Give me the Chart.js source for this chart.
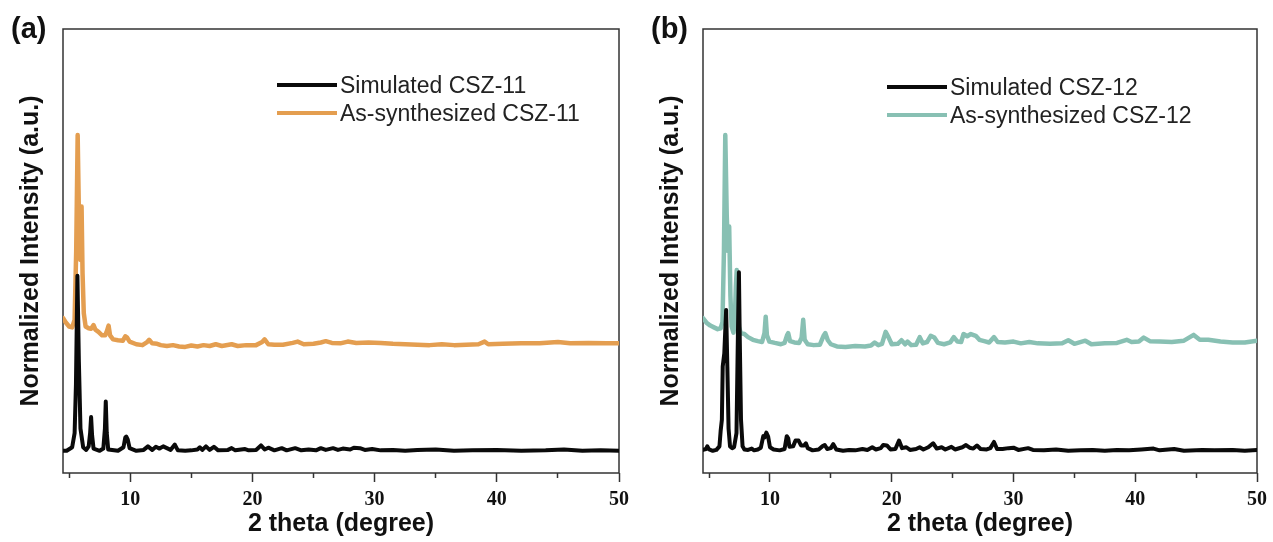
<!DOCTYPE html>
<html>
<head>
<meta charset="utf-8">
<title>XRD CSZ-11 / CSZ-12</title>
<script src="https://cdn.jsdelivr.net/npm/chart.js@4.4.1/dist/chart.umd.min.js"></script>
<style>
    body {
        margin: 0;
        background: #fff;
        width: 1273px;
        height: 542px;
        position: relative;
        overflow: hidden;
        font-family: "Liberation Sans", Arial, sans-serif;
    }
    .panel {
        position: absolute;
        top: 0;
        height: 542px;
    }
    #panelA { left: 0; width: 640px; }
    #panelB { left: 640px; width: 633px; }
    .tag {
        position: absolute;
        font-weight: bold;
        font-size: 29px;
        line-height: 1;
        color: #111;
    }
    .legend {
        position: absolute;
        font-size: 23px;
        color: #222;
    }
    .legend .row {
        display: flex;
        align-items: center;
        height: 28px;
        white-space: nowrap;
    }
    .legend .line {
        display: inline-block;
        width: 60px;
        height: 4px;
        margin-right: 3px;
    }
</style>
</head>
<body>
<div class="panel" id="panelA">
    <canvas id="chartA" width="640" height="542"></canvas>
    <div class="tag" style="left: 11px; top: 14px;">(a)</div>
    <div class="legend" id="legendA" style="left: 277px; top: 71px;"></div>
</div>
<div class="panel" id="panelB">
    <canvas id="chartB" width="633" height="542"></canvas>
    <div class="tag" style="left: 11px; top: 14px;">(b)</div>
    <div class="legend" id="legendB" style="left: 247px; top: 73px;"></div>
</div>
<script>
// x ticks (2 theta, degree)
const xMajorTicks = [10, 20, 30, 40, 50];
const xMinorTicks = [5, 15, 25, 35, 45];

// (a) simulated CSZ-11, [2theta, intensity]
const simulated11 = [
    [4.5, 5.0], [4.8, 5.0], [5.25, 5.8], [5.45, 9], [5.56, 20], [5.68, 44.4],
    [5.8, 25], [5.93, 10], [6.15, 5.8], [6.4, 5.2], [6.6, 6], [6.72, 9],
    [6.8, 12.6], [6.88, 8.5], [7.0, 5.5], [7.5, 5.0], [7.8, 5.5], [7.93, 10],
    [8.0, 16.1], [8.08, 9], [8.2, 5.3], [9.0, 5.0], [9.45, 5.8], [9.6, 8],
    [9.68, 8.2], [9.8, 7.5], [9.95, 5.6], [10.5, 5.0], [11.1, 5.2], [11.45, 6.0],
    [11.8, 5.2], [12.1, 5.9], [12.4, 5.5], [12.7, 6.0], [13.0, 5.6], [13.3, 5.2],
    [13.65, 6.4], [13.9, 5.1], [14.5, 5.0], [15.0, 5.1], [15.5, 5.3], [15.7, 5.8],
    [15.9, 5.2], [16.2, 6.0], [16.5, 5.2], [16.85, 5.9], [17.2, 5.1], [18.0, 5.2],
    [18.3, 5.6], [18.6, 5.1], [19.4, 5.4], [19.7, 5.1], [20.3, 5.2], [20.7, 6.2],
    [21.0, 5.3], [21.3, 5.7], [21.8, 5.1], [22.4, 5.6], [22.8, 5.1], [23.5, 5.6],
    [24.0, 5.1], [24.6, 5.3], [25.2, 5.1], [25.6, 5.6], [26.0, 5.2], [26.6, 5.6],
    [27.0, 5.2], [27.4, 5.5], [28.0, 5.3], [28.3, 5.7], [28.8, 5.6], [29.2, 5.2],
    [29.8, 5.4], [30.5, 5.1], [31.5, 5.2], [32.5, 5.0], [33.5, 5.2], [35.0, 5.3],
    [36.5, 5.0], [38.0, 5.1], [40.0, 5.2], [42.0, 5.0], [44.0, 5.1], [45.5, 5.3],
    [47.0, 5.0], [48.5, 5.1], [50.0, 5.0]
];

// (a) as-synthesized CSZ-11
const synthesized11 = [
    [4.5, 34.9], [4.7, 34.0], [5.0, 33.0], [5.25, 32.8], [5.45, 34.5], [5.58, 50],
    [5.7, 76.1], [5.82, 55], [5.92, 48], [6.02, 60], [6.1, 45], [6.2, 36],
    [6.35, 33], [6.6, 32.6], [6.8, 32.5], [7.0, 33.3], [7.15, 32.3], [7.4, 31.8],
    [7.7, 31.0], [7.95, 31.0], [8.1, 32.0], [8.23, 33.2], [8.35, 31.0], [8.6, 30.1],
    [9.0, 29.9], [9.4, 29.8], [9.6, 30.8], [9.75, 30.5], [9.95, 29.6], [10.5, 29.0],
    [11.0, 28.8], [11.35, 29.4], [11.55, 30.0], [11.8, 29.2], [12.2, 29.1], [12.5, 28.8],
    [13.0, 28.6], [13.5, 28.8], [14.0, 28.5], [14.5, 28.4], [15.0, 28.7], [15.5, 28.5],
    [16.0, 28.8], [16.5, 28.6], [17.0, 29.0], [17.5, 28.6], [18.3, 29.0], [18.8, 28.6],
    [19.5, 28.8], [20.3, 28.8], [20.8, 29.5], [21.0, 30.1], [21.3, 29.0], [21.8, 28.9],
    [22.5, 28.9], [23.3, 29.3], [23.7, 29.6], [24.2, 29.0], [25.0, 29.1], [25.6, 29.4],
    [26.0, 29.7], [26.5, 29.3], [27.2, 29.2], [27.8, 29.6], [28.5, 29.3], [29.5, 29.4],
    [30.5, 29.3], [31.5, 29.1], [32.5, 29.0], [33.5, 28.9], [34.5, 28.8], [35.5, 29.0],
    [36.5, 28.8], [37.5, 28.9], [38.5, 29.0], [39.0, 29.6], [39.3, 29.0], [40.5, 29.1],
    [42.0, 29.2], [43.5, 29.2], [45.0, 29.5], [46.0, 29.2], [47.5, 29.3], [49.0, 29.2],
    [50.0, 29.2]
];

// (b) simulated CSZ-12
const simulated12 = [
    [4.5, 5.2], [4.75, 5.4], [4.85, 6.0], [5.0, 5.3], [5.3, 5.0], [5.6, 5.2],
    [5.85, 6.0], [5.95, 9.5], [6.05, 12], [6.12, 24], [6.25, 27], [6.4, 36.7],
    [6.5, 24], [6.6, 10], [6.72, 6], [6.9, 5.6], [7.05, 5.8], [7.25, 9],
    [7.35, 28], [7.45, 45.2], [7.52, 30], [7.62, 12], [7.75, 6], [7.9, 5.3],
    [8.2, 5.2], [8.5, 5.5], [8.7, 5.1], [9.0, 5.3], [9.25, 5.7], [9.45, 8.3],
    [9.55, 8.0], [9.7, 9.1], [9.85, 8.2], [10.0, 5.8], [10.3, 5.3], [10.8, 5.1],
    [11.2, 5.4], [11.38, 8.3], [11.5, 7.8], [11.6, 5.9], [11.9, 6.0], [12.1, 7.3],
    [12.35, 7.3], [12.55, 6.2], [12.8, 6.2], [12.95, 6.7], [13.1, 5.6], [13.5, 5.1],
    [14.0, 5.3], [14.3, 6.0], [14.5, 6.3], [14.7, 5.4], [15.0, 5.6], [15.2, 6.5],
    [15.45, 5.3], [16.0, 5.0], [16.5, 5.2], [17.0, 5.1], [17.6, 5.4], [18.0, 5.2],
    [18.4, 5.8], [18.7, 5.3], [19.1, 5.6], [19.3, 6.3], [19.6, 6.2], [19.9, 5.3],
    [20.3, 5.4], [20.6, 7.3], [20.85, 5.6], [21.2, 5.8], [21.5, 5.2], [22.0, 5.4],
    [22.3, 5.8], [22.6, 5.3], [23.0, 5.8], [23.4, 6.7], [23.7, 5.5], [24.1, 5.8],
    [24.4, 5.3], [24.9, 5.9], [25.2, 5.3], [25.8, 5.8], [26.1, 6.3], [26.4, 5.7],
    [26.7, 5.5], [27.0, 6.2], [27.3, 5.4], [27.8, 5.3], [28.1, 5.6], [28.4, 7.0],
    [28.65, 5.4], [29.1, 5.4], [29.6, 5.6], [30.0, 5.7], [30.4, 5.2], [31.2, 5.6],
    [31.6, 5.2], [32.5, 5.1], [33.5, 5.3], [34.5, 5.0], [35.5, 5.1], [36.5, 5.2],
    [37.5, 5.0], [38.5, 5.2], [39.5, 5.1], [40.5, 5.3], [41.5, 5.5], [42.0, 5.1],
    [43.2, 5.4], [44.0, 5.0], [45.5, 5.2], [46.5, 5.1], [48.0, 5.2], [49.0, 5.0],
    [50.0, 5.2]
];

// (b) as-synthesized CSZ-12
const synthesized12 = [
    [4.5, 34.9], [4.8, 33.8], [5.1, 33.2], [5.4, 32.8], [5.7, 32.4], [5.95, 32.6],
    [6.1, 34], [6.22, 50], [6.33, 76.1], [6.45, 58], [6.55, 50], [6.65, 55.5],
    [6.75, 40], [6.85, 33], [7.0, 31.6], [7.1, 33.5], [7.2, 42], [7.27, 45.7],
    [7.35, 40], [7.45, 33], [7.6, 31.5], [7.9, 31.3], [8.2, 30.6], [8.6, 30.0],
    [9.0, 29.7], [9.35, 29.5], [9.55, 31.5], [9.65, 35.2], [9.75, 31.0], [9.95, 29.6],
    [10.4, 29.3], [10.9, 29.0], [11.2, 29.3], [11.4, 31.0], [11.5, 31.5], [11.65, 29.7],
    [12.0, 29.4], [12.4, 29.3], [12.6, 30.5], [12.73, 34.5], [12.85, 30.0], [13.1, 29.0],
    [13.6, 28.8], [14.1, 28.9], [14.4, 30.9], [14.55, 31.5], [14.75, 29.9], [15.0, 29.0],
    [15.5, 28.5], [16.2, 28.4], [17.0, 28.6], [17.8, 28.5], [18.3, 28.7], [18.6, 29.4],
    [18.9, 28.8], [19.2, 29.1], [19.5, 31.8], [19.75, 30.5], [20.0, 29.0], [20.5, 29.1],
    [20.8, 29.9], [21.1, 29.0], [21.3, 29.6], [21.6, 28.8], [22.0, 28.9], [22.3, 30.6],
    [22.55, 29.2], [22.9, 29.5], [23.2, 30.9], [23.5, 30.5], [23.8, 29.3], [24.3, 29.0],
    [24.8, 29.4], [25.1, 30.6], [25.4, 29.6], [25.7, 29.5], [25.9, 31.3], [26.2, 30.8],
    [26.5, 31.3], [26.9, 30.9], [27.2, 30.0], [27.6, 29.7], [28.0, 29.4], [28.4, 30.6],
    [28.7, 29.5], [29.3, 29.4], [30.0, 29.6], [30.6, 29.2], [31.3, 29.5], [32.0, 29.2],
    [33.0, 29.1], [34.0, 29.2], [34.5, 29.9], [35.0, 29.1], [35.9, 29.8], [36.4, 29.0],
    [37.5, 29.2], [38.5, 29.3], [39.3, 30.0], [39.7, 29.5], [40.3, 29.6], [40.7, 30.5],
    [41.2, 29.7], [42.0, 29.6], [43.0, 29.5], [44.0, 29.8], [44.8, 31.1], [45.3, 30.0],
    [46.0, 30.0], [47.0, 29.6], [48.0, 29.4], [49.0, 29.4], [50.0, 29.8]
];

const framePlugin = {
    id: "frame",
    beforeDatasetsDraw(chart) {
        const { ctx, chartArea: a } = chart;
        ctx.save();
        ctx.strokeStyle = "#333";
        ctx.lineWidth = 1.5;
        ctx.strokeRect(a.left, a.top, a.right - a.left, a.bottom - a.top);
        ctx.restore();
    },
};

function toPoints(pairs) {
    return pairs.map((p) => ({ x: p[0], y: p[1] }));
}

function renderLegend(el, items) {
    el.innerHTML = "";
    items.forEach((item) => {
        const row = document.createElement("div");
        row.className = "row";
        const line = document.createElement("span");
        line.className = "line";
        line.style.background = item.color;
        const text = document.createElement("span");
        text.textContent = item.label;
        row.appendChild(line);
        row.appendChild(text);
        el.appendChild(row);
    });
}

function buildPanel(canvasId, legendId, simLabel, sim, synLabel, syn, synColor, rightPad) {
    const datasets = [
        { label: simLabel, data: toPoints(sim), borderColor: "#0a0a0a", borderWidth: 4 },
        { label: synLabel, data: toPoints(syn), borderColor: synColor, borderWidth: 4.5 },
    ];

    renderLegend(document.getElementById(legendId), [
        { label: simLabel, color: "#0a0a0a" },
        { label: synLabel, color: synColor },
    ]);

    new Chart(document.getElementById(canvasId), {
        type: "line",
        data: { datasets },
        plugins: [framePlugin],
        options: {
            responsive: false,
            animation: false,
            layout: { padding: { top: 29, right: rightPad, left: 0, bottom: 0 } },
            plugins: {
                legend: { display: false },
                tooltip: { enabled: false },
            },
            elements: {
                point: { radius: 0 },
                line: { tension: 0, borderJoinStyle: "round", borderCapStyle: "round", fill: false },
            },
            scales: {
                x: {
                    type: "linear",
                    position: "bottom",
                    min: 4.5,
                    max: 50,
                    weight: 1,
                    afterBuildTicks: (s) => {
                        s.ticks = xMajorTicks.map((v) => ({ value: v }));
                    },
                    afterFit: (s) => {
                        s.height = 69;
                    },
                    grid: {
                        drawOnChartArea: false,
                        tickLength: 9,
                        tickWidth: 1.5,
                        tickColor: "#333",
                    },
                    border: { display: false },
                    ticks: {
                        autoSkip: false,
                        maxRotation: 0,
                        padding: 6,
                        color: "#111",
                        font: { family: '"Liberation Serif", "Times New Roman", serif', weight: "bold", size: 20 },
                    },
                    title: {
                        display: true,
                        text: "2 theta (degree)",
                        color: "#111",
                        font: { family: '"Liberation Sans", Arial, sans-serif', weight: "bold", size: 25 },
                        padding: { top: 0, bottom: 3 },
                    },
                },
                xMinor: {
                    type: "linear",
                    position: "bottom",
                    min: 4.5,
                    max: 50,
                    weight: 0,
                    afterBuildTicks: (s) => {
                        s.ticks = xMinorTicks.map((v) => ({ value: v }));
                    },
                    afterFit: (s) => {
                        s.height = 0;
                    },
                    grid: {
                        drawOnChartArea: false,
                        tickLength: 5,
                        tickWidth: 1.5,
                        tickColor: "#333",
                    },
                    border: { display: false },
                    ticks: { display: false },
                },
                y: {
                    min: 0,
                    max: 100,
                    afterFit: (s) => {
                        s.width = 63;
                    },
                    grid: { display: false },
                    border: { display: false },
                    ticks: { display: false },
                    title: {
                        display: true,
                        text: "Normalized Intensity (a.u.)",
                        color: "#111",
                        font: { family: '"Liberation Sans", Arial, sans-serif', weight: "bold", size: 25 },
                        padding: { top: 16, bottom: 0 },
                    },
                },
            },
        },
    });
}

buildPanel("chartA", "legendA", "Simulated CSZ-11", simulated11, "As-synthesized CSZ-11", synthesized11, "#E49E50", 21);
buildPanel("chartB", "legendB", "Simulated CSZ-12", simulated12, "As-synthesized CSZ-12", synthesized12, "#88C0B3", 16);
</script>
</body>
</html>
